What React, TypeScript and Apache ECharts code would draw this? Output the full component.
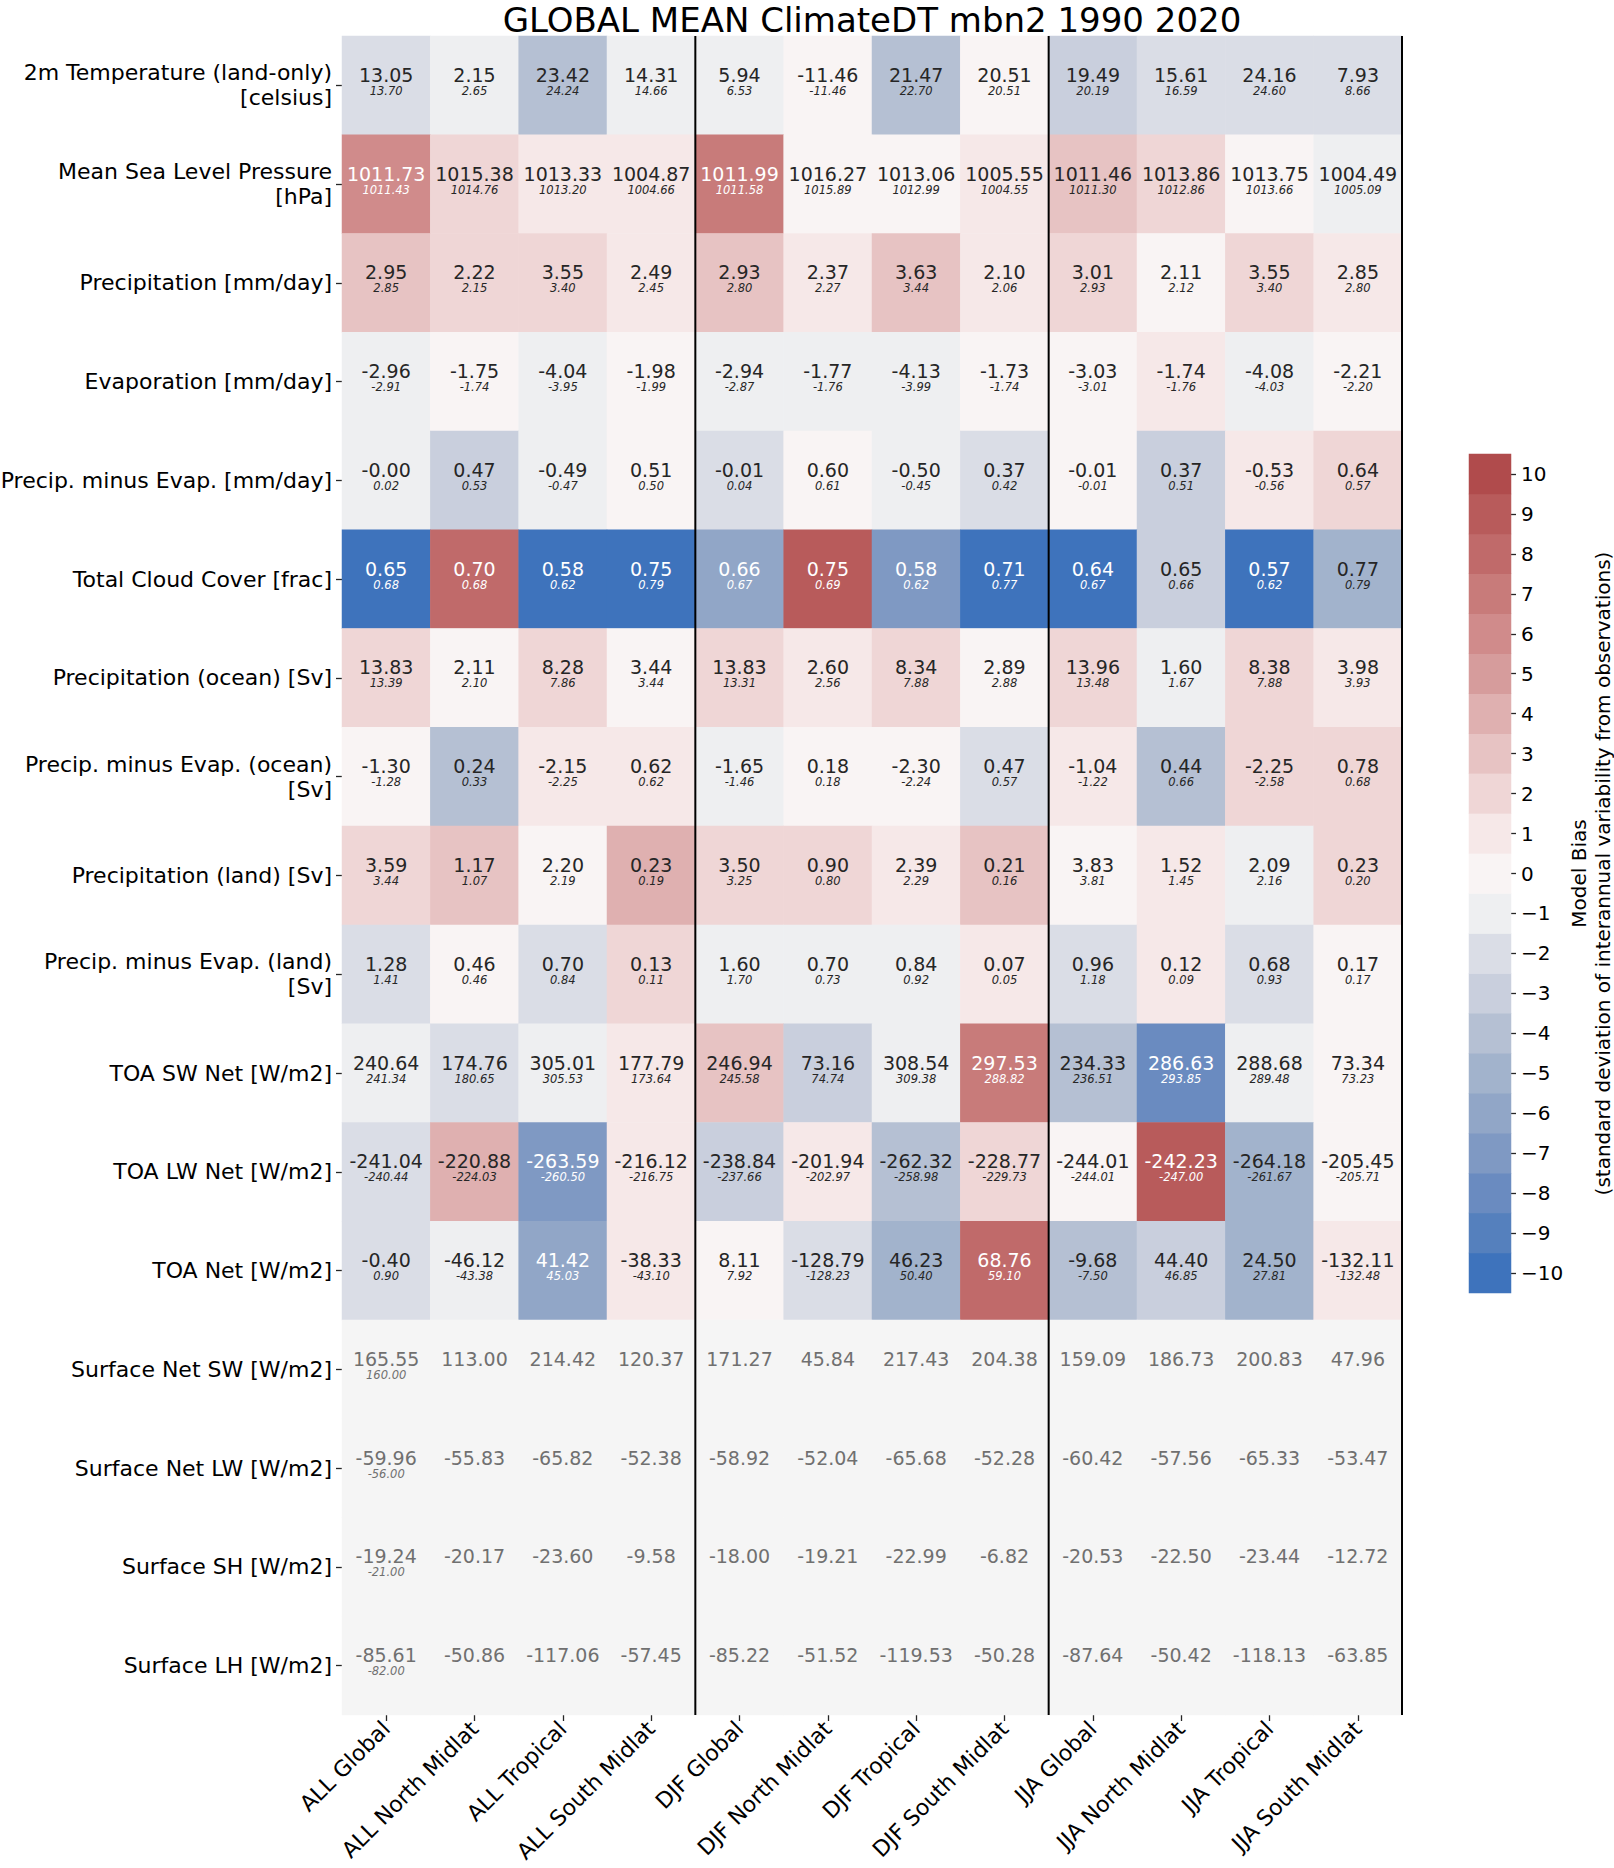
import React, { useEffect, useRef } from "react";
import * as echarts from "echarts";

const FONT = "DejaVu Sans";

const titleText = "GLOBAL MEAN ClimateDT mbn2 1990 2020";

const columns = [
  "ALL Global", "ALL North Midlat", "ALL Tropical", "ALL South Midlat",
  "DJF Global", "DJF North Midlat", "DJF Tropical", "DJF South Midlat",
  "JJA Global", "JJA North Midlat", "JJA Tropical", "JJA South Midlat",
];

const variables = [
  "2m Temperature (land-only)\n[celsius]",
  "Mean Sea Level Pressure\n[hPa]",
  "Precipitation [mm/day]",
  "Evaporation [mm/day]",
  "Precip. minus Evap. [mm/day]",
  "Total Cloud Cover [frac]",
  "Precipitation (ocean) [Sv]",
  "Precip. minus Evap. (ocean)\n[Sv]",
  "Precipitation (land) [Sv]",
  "Precip. minus Evap. (land)\n[Sv]",
  "TOA SW Net [W/m2]",
  "TOA LW Net [W/m2]",
  "TOA Net [W/m2]",
  "Surface Net SW [W/m2]",
  "Surface Net LW [W/m2]",
  "Surface SH [W/m2]",
  "Surface LH [W/m2]",
];

// model values (big numbers in each cell)
const modelValues: number[][] = [
  [13.05, 2.15, 23.42, 14.31, 5.94, -11.46, 21.47, 20.51, 19.49, 15.61, 24.16, 7.93],
  [1011.73, 1015.38, 1013.33, 1004.87, 1011.99, 1016.27, 1013.06, 1005.55, 1011.46, 1013.86, 1013.75, 1004.49],
  [2.95, 2.22, 3.55, 2.49, 2.93, 2.37, 3.63, 2.10, 3.01, 2.11, 3.55, 2.85],
  [-2.96, -1.75, -4.04, -1.98, -2.94, -1.77, -4.13, -1.73, -3.03, -1.74, -4.08, -2.21],
  [-0, 0.47, -0.49, 0.51, -0.01, 0.60, -0.50, 0.37, -0.01, 0.37, -0.53, 0.64],
  [0.65, 0.70, 0.58, 0.75, 0.66, 0.75, 0.58, 0.71, 0.64, 0.65, 0.57, 0.77],
  [13.83, 2.11, 8.28, 3.44, 13.83, 2.60, 8.34, 2.89, 13.96, 1.60, 8.38, 3.98],
  [-1.30, 0.24, -2.15, 0.62, -1.65, 0.18, -2.30, 0.47, -1.04, 0.44, -2.25, 0.78],
  [3.59, 1.17, 2.20, 0.23, 3.50, 0.90, 2.39, 0.21, 3.83, 1.52, 2.09, 0.23],
  [1.28, 0.46, 0.70, 0.13, 1.60, 0.70, 0.84, 0.07, 0.96, 0.12, 0.68, 0.17],
  [240.64, 174.76, 305.01, 177.79, 246.94, 73.16, 308.54, 297.53, 234.33, 286.63, 288.68, 73.34],
  [-241.04, -220.88, -263.59, -216.12, -238.84, -201.94, -262.32, -228.77, -244.01, -242.23, -264.18, -205.45],
  [-0.40, -46.12, 41.42, -38.33, 8.11, -128.79, 46.23, 68.76, -9.68, 44.40, 24.50, -132.11],
  [165.55, 113.00, 214.42, 120.37, 171.27, 45.84, 217.43, 204.38, 159.09, 186.73, 200.83, 47.96],
  [-59.96, -55.83, -65.82, -52.38, -58.92, -52.04, -65.68, -52.28, -60.42, -57.56, -65.33, -53.47],
  [-19.24, -20.17, -23.60, -9.58, -18.00, -19.21, -22.99, -6.82, -20.53, -22.50, -23.44, -12.72],
  [-85.61, -50.86, -117.06, -57.45, -85.22, -51.52, -119.53, -50.28, -87.64, -50.42, -118.13, -63.85],
];

// observation values (small italic numbers)
const obsValues: (number | null)[][] = [
  [13.70, 2.65, 24.24, 14.66, 6.53, -11.46, 22.70, 20.51, 20.19, 16.59, 24.60, 8.66],
  [1011.43, 1014.76, 1013.20, 1004.66, 1011.58, 1015.89, 1012.99, 1004.55, 1011.30, 1012.86, 1013.66, 1005.09],
  [2.85, 2.15, 3.40, 2.45, 2.80, 2.27, 3.44, 2.06, 2.93, 2.12, 3.40, 2.80],
  [-2.91, -1.74, -3.95, -1.99, -2.87, -1.76, -3.99, -1.74, -3.01, -1.76, -4.03, -2.20],
  [0.02, 0.53, -0.47, 0.50, 0.04, 0.61, -0.45, 0.42, -0.01, 0.51, -0.56, 0.57],
  [0.68, 0.68, 0.62, 0.79, 0.67, 0.69, 0.62, 0.77, 0.67, 0.66, 0.62, 0.79],
  [13.39, 2.10, 7.86, 3.44, 13.31, 2.56, 7.88, 2.88, 13.48, 1.67, 7.88, 3.93],
  [-1.28, 0.33, -2.25, 0.62, -1.46, 0.18, -2.24, 0.57, -1.22, 0.66, -2.58, 0.68],
  [3.44, 1.07, 2.19, 0.19, 3.25, 0.80, 2.29, 0.16, 3.81, 1.45, 2.16, 0.20],
  [1.41, 0.46, 0.84, 0.11, 1.70, 0.73, 0.92, 0.05, 1.18, 0.09, 0.93, 0.17],
  [241.34, 180.65, 305.53, 173.64, 245.58, 74.74, 309.38, 288.82, 236.51, 293.85, 289.48, 73.23],
  [-240.44, -224.03, -260.50, -216.75, -237.66, -202.97, -258.98, -229.73, -244.01, -247.00, -261.67, -205.71],
  [0.90, -43.38, 45.03, -43.10, 7.92, -128.23, 50.40, 59.10, -7.50, 46.85, 27.81, -132.48],
  [160.00, null, null, null, null, null, null, null, null, null, null, null],
  [-56.00, null, null, null, null, null, null, null, null, null, null, null],
  [-21.00, null, null, null, null, null, null, null, null, null, null, null],
  [-82.00, null, null, null, null, null, null, null, null, null, null, null],
];

// model bias in units of interannual std. dev. (binned), null = no observations
const biasLevels: (number[] | null)[] = [
  [-2, -1, -4, -1, -1, 0, -4, 0, -3, -2, -2, -2],
  [6, 2, 1, 1, 7, 0, 0, 1, 3, 2, 0, -1],
  [3, 2, 2, 1, 3, 1, 3, 1, 2, 0, 2, 1],
  [-1, 0, -1, 0, -1, -1, -1, 0, 0, 1, -1, 0],
  [-1, -3, -1, 0, -2, 0, -1, -2, 0, -3, 1, 2],
  [-10, 8, -10, -10, -6, 9, -7, -10, -10, -3, -10, -5],
  [2, 0, 2, 0, 2, 1, 2, 0, 2, -1, 2, 1],
  [0, -4, 1, 1, -1, 0, 0, -2, 1, -4, 2, 2],
  [2, 3, 0, 4, 2, 2, 1, 3, 0, 1, -1, 2],
  [-2, 0, -2, 2, -1, -1, -1, 1, -2, 1, -2, 0],
  [-1, -2, -1, 1, 3, -3, -1, 7, -4, -8, -1, 0],
  [-2, 4, -7, 1, -3, 1, -4, 2, 0, 9, -5, 0],
  [-2, -1, -6, 1, 0, -2, -5, 8, -4, -3, -5, 1],
  null,
  null,
  null,
  null,
];

const colorbarLevels = [-10, -9, -8, -7, -6, -5, -4, -3, -2, -1, 0, 1, 2, 3, 4, 5, 6, 7, 8, 9, 10];

const palette = [
  "#3e73bc", "#5580bd", "#6a8bc0", "#7f99c3", "#91a6c7", "#a2b3cc", "#b5c0d3",
  "#c9cfdd", "#dadde6", "#eeeff1", "#f9f4f4", "#f6e8e8", "#efd6d6", "#e7c3c3",
  "#dfb0b0", "#d69c9c", "#d08b8b", "#c87b7a", "#c06a6a", "#b85b5b", "#b04b4c",
];

const noObsColor = "#f5f5f5";

const separatorColumns = [4, 8, 12];

const colorbarName = "Model Bias\n(standard deviation of interannual variability from observations)";

const fmt = (v: number) => (Object.is(v, -0) ? "-0.00" : v.toFixed(2));

export default function App() {
  const ref = useRef<HTMLDivElement>(null);

  useEffect(() => {
    document.body.style.margin = "0";
    if (!ref.current) return;
    const chart = echarts.init(ref.current, null, { renderer: "svg" });

    const biasData: any[] = [];
    const noObsData: any[] = [];
    modelValues.forEach((row, r) => {
      row.forEach((v, c) => {
        const lv = biasLevels[r];
        const obs = obsValues[r][c];
        if (lv) biasData.push([c, r, lv[c], v, obs]);
        else noObsData.push([c, r, 0, v, obs]);
      });
    });

    const txt = (k: string) => (p: any) => {
      const d = p.data;
      const kind = k === "g" ? "g" : Math.abs(d[2]) >= 6 ? "w" : "d";
      const sub = d[4] === null || d[4] === undefined ? " " : fmt(d[4]);
      return `{a${kind}|${fmt(d[3])}}\n{b${kind}|${sub}}`;
    };

    const mk = (color: string) => ({
      a: { fontSize: 19, lineHeight: 20, color, fontFamily: FONT },
      b: { fontSize: 11.5, lineHeight: 12, color, fontFamily: FONT, fontStyle: "italic" },
    });
    const d = mk("#262626");
    const w = mk("#ffffff");
    const g = mk("#707070");
    const rich = { ad: d.a, bd: d.b, aw: w.a, bw: w.b, ag: g.a, bg: g.b };

    const tickStyle = { color: "#262626", width: 1.3 };

    const option: any = {
      animation: false,
      textStyle: { fontFamily: FONT },
      graphic: [
        {
          type: "text",
          x: 872,
          y: 20,
          style: {
            text: titleText,
            fontSize: 34,
            fontFamily: FONT,
            fill: "#000",
            textAlign: "center",
            textVerticalAlign: "middle",
          },
        },
      ],
      grid: [
        { left: 342, top: 36, width: 1060, height: 1679, containLabel: false, outerBoundsMode: "none" },
        { left: 1469, top: 454, width: 42, height: 839, containLabel: false, outerBoundsMode: "none" },
      ],
      xAxis: [
        {
          type: "category",
          gridIndex: 0,
          data: columns,
          axisLine: { show: false },
          axisTick: { show: true, alignWithLabel: true, length: 6, lineStyle: tickStyle },
          axisLabel: { rotate: 45, fontSize: 22, color: "#000", fontFamily: FONT, margin: 10, interval: 0 },
          splitLine: { show: false },
        },
        { type: "category", gridIndex: 1, data: ["bias"], show: false },
      ],
      yAxis: [
        {
          type: "category",
          gridIndex: 0,
          inverse: true,
          data: variables,
          axisLine: { show: false },
          axisTick: { show: true, alignWithLabel: true, length: 6, lineStyle: tickStyle },
          axisLabel: { fontSize: 22, lineHeight: 25, color: "#000", fontFamily: FONT, margin: 10, interval: 0 },
          splitLine: { show: false },
        },
        {
          type: "category",
          gridIndex: 1,
          position: "right",
          data: colorbarLevels.map((v) => (v < 0 ? "\u2212" + Math.abs(v) : String(v))),
          axisLine: { show: false },
          axisTick: { show: true, alignWithLabel: true, length: 5, lineStyle: tickStyle },
          axisLabel: { fontSize: 20, color: "#000", fontFamily: FONT, margin: 10, interval: 0 },
          name: colorbarName,
          nameLocation: "middle",
          nameRotate: 90,
          nameGap: 56,
          nameTextStyle: { fontSize: 20, lineHeight: 24, color: "#000", fontFamily: FONT },
        },
      ],
      visualMap: [
        {
          type: "piecewise",
          show: false,
          dimension: 2,
          seriesIndex: [0, 3],
          pieces: colorbarLevels.map((v, i) => ({ value: v, color: palette[i] })),
        },
        {
          type: "continuous",
          show: false,
          dimension: 2,
          seriesIndex: 1,
          min: 0,
          max: 1,
          inRange: { color: [noObsColor, noObsColor] },
        },
      ],
      series: [
        {
          type: "heatmap",
          xAxisIndex: 0,
          yAxisIndex: 0,
          data: biasData,
          silent: true,
          itemStyle: { borderWidth: 0 },
          label: { show: true, formatter: txt("c"), rich, offset: [0, -4.5] },
        },
        {
          type: "heatmap",
          xAxisIndex: 0,
          yAxisIndex: 0,
          data: noObsData,
          silent: true,
          itemStyle: { borderWidth: 0 },
          label: { show: true, formatter: txt("g"), rich, offset: [0, -4.5] },
        },
        {
          type: "custom",
          xAxisIndex: 0,
          yAxisIndex: 0,
          silent: true,
          clip: false,
          z: 10,
          data: separatorColumns.map((c) => [c, 0]),
          renderItem: (params: any, api: any) => {
            const c = api.value(0);
            const bw = api.size([1, 0])[0];
            const x = api.coord([c - 1, 0])[0] + bw / 2;
            const cs = params.coordSys;
            return {
              type: "line",
              shape: { x1: x, y1: cs.y, x2: x, y2: cs.y + cs.height },
              style: { stroke: "#000", lineWidth: 2 },
            };
          },
        },
        {
          type: "heatmap",
          xAxisIndex: 1,
          yAxisIndex: 1,
          silent: true,
          itemStyle: { borderWidth: 0 },
          data: colorbarLevels.map((v, i) => [0, i, v]),
        },
      ],
    };

    chart.setOption(option);
    return () => chart.dispose();
  }, []);

  return <div ref={ref} style={{ width: 1614, height: 1868 }} />;
}
